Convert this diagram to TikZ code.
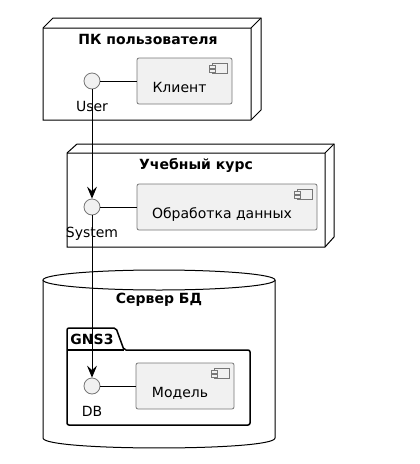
\documentclass[tikz,border=0pt]{standalone}
\usepackage{fontspec}
\setmainfont{DejaVu Sans}
\usetikzlibrary{arrows.meta,positioning,calc}

\definecolor{compfill}{HTML}{F1F1F1}
\definecolor{compline}{HTML}{777777}

\begin{document}
\begin{tikzpicture}[x=1pt,y=-1pt,
    txt/.style={font=\fontsize{14}{16}\selectfont},
    title/.style={font=\bfseries\fontsize{14}{16}\selectfont},
    comp/.style={rectangle,draw=compline,fill=compfill,line width=0.8pt,rounded corners=2pt,
        minimum height=46pt,inner sep=0pt,text height=22pt,text depth=0pt,txt,
        execute at end node={\hspace*{10pt}}},
    iface/.style={circle,draw=compline,fill=compfill,line width=0.8pt,minimum size=16pt,inner sep=0pt},
    ilabel/.style={txt,label distance=8pt},
    box/.style={draw=black,line width=1pt,fill=white},
    link/.style={-{Stealth[length=12pt,width=10pt,inset=4.5pt]},line width=0.9pt}]
    \useasboundingbox (0,0) rectangle (420,464);

    % PC node
    \draw[box] (43,28) -- (53,18) -- (261,18) -- (261,110) -- (251,120) -- (43,120) -- cycle;
    \draw[line width=1pt] (43,28) -- (251,28) -- (251,120) (251,28) -- (261,18);
    \node[title] (pctitle) at (148,39) {ПК пользователя};

    % PC components
    \node[comp,minimum width=95pt] (client) at (184.5,81) {Клиент};
    \node[iface,label={[ilabel]below:User}] (user) at (92,81) {};

    % Course node
    \draw[box] (67,153) -- (77,144) -- (334,144) -- (334,237) -- (325,247) -- (67,247) -- cycle;
    \draw[line width=1pt] (67,153) -- (325,153) -- (325,247) (325,153) -- (334,144);
    \node[title] (coursetitle) at (196,165) {Учебный курс};

    % Course components
    \node[comp,minimum width=180pt] (proc) at (227,207) {Обработка данных};
    \node[iface,label={[ilabel]below:System}] (system) at (92,207) {};

    % DB server
    \draw[box] (43,280) -- (43,438) .. controls (43,451.3) and (275,451.3) .. (275,438) -- (275,280);
    \draw[box] (159,280) ellipse (116 and 10);
    \node[title] (dbtitle) at (159,300) {Сервер БД};

    % GNS3 package
    \draw[line width=1.5pt,rounded corners=2pt] (67,350) -- (67,328) -- (116,328) -- (124,350)
        -- (250,350) -- (250,425) -- (67,425) -- cycle;
    \draw[line width=1.5pt] (67,350) -- (124,350);
    \node[title] (pkgtitle) at (92,339) {GNS3};

    % DB components
    \node[comp,minimum width=98pt] (model) at (185,386) {Модель};
    \node[iface,label={[ilabel]below:DB}] (db) at (92,386) {};

    % Component icons
    \foreach \c in {client,proc,model} {
        \draw[compline,fill=compfill,line width=0.7pt] ($(\c.north east)+(-20,6)$) rectangle ($(\c.north east)+(-5,16)$);
        \draw[compline,fill=compfill,line width=0.7pt] ($(\c.north east)+(-23,8)$) rectangle ($(\c.north east)+(-17,10.5)$);
        \draw[compline,fill=compfill,line width=0.7pt] ($(\c.north east)+(-23,12)$) rectangle ($(\c.north east)+(-17,14.5)$);
    }

    % Links
    \draw[line width=0.9pt] (user) -- (client);
    \draw[line width=0.9pt] (system) -- (proc);
    \draw[line width=0.9pt] (db) -- (model);
    \draw[link] (user) -- (system);
    \draw[link] (system) -- (db);
\end{tikzpicture}
\end{document}
